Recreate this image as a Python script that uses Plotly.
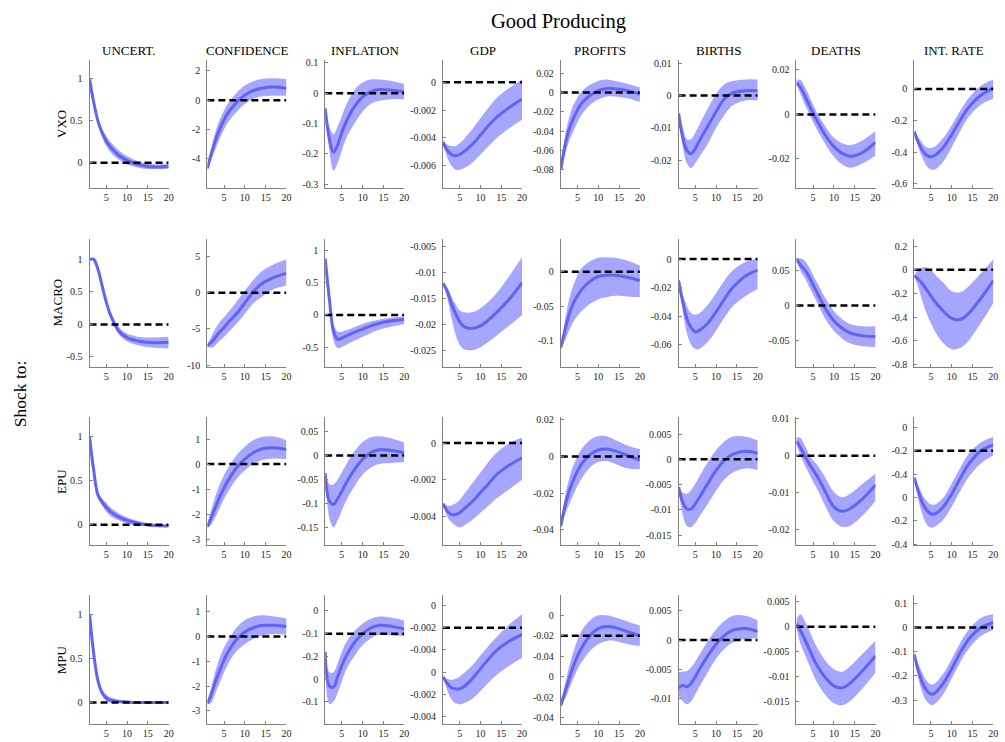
import plotly.graph_objects as go

# ---------------- data ----------------
H = [1, 2, 3, 4, 5, 6, 8, 10, 12, 14, 17, 20]

SHOCKS = ["VXO", "MACRO", "EPU", "MPU"]
VARIABLES = ["UNCERT.", "CONFIDENCE", "INFLATION", "GDP", "PROFITS", "BIRTHS", "DEATHS", "INT. RATE"]

# ---- VXO shock ----
VXO_UNC_MED = [1.0, 0.72, 0.5, 0.36, 0.26, 0.19, 0.09, 0.03, -0.01, -0.035, -0.05, -0.04]
VXO_UNC_LO = [1.0, 0.70, 0.46, 0.31, 0.2, 0.13, 0.04, -0.02, -0.05, -0.07, -0.075, -0.07]
VXO_UNC_HI = [1.0, 0.74, 0.54, 0.41, 0.32, 0.25, 0.15, 0.08, 0.03, 0.0, -0.02, -0.015]
VXO_CON_MED = [-4.65, -3.6, -2.7, -1.95, -1.35, -0.85, -0.15, 0.35, 0.65, 0.82, 0.9, 0.82]
VXO_CON_LO = [-4.75, -4.0, -3.3, -2.6, -2.0, -1.5, -0.8, -0.25, 0.1, 0.25, 0.3, 0.3]
VXO_CON_HI = [-4.55, -3.2, -2.1, -1.3, -0.7, -0.2, 0.5, 1.0, 1.3, 1.45, 1.5, 1.45]
VXO_INF_MED = [-0.05, -0.15, -0.195, -0.17, -0.13, -0.095, -0.045, -0.012, 0.005, 0.012, 0.01, 0.005]
VXO_INF_LO = [-0.05, -0.19, -0.255, -0.23, -0.19, -0.15, -0.1, -0.06, -0.035, -0.025, -0.02, -0.02]
VXO_INF_HI = [-0.05, -0.11, -0.135, -0.11, -0.075, -0.04, 0.01, 0.035, 0.045, 0.045, 0.04, 0.03]
VXO_GDP_MED = [-0.0043, -0.0049, -0.0052, -0.0053, -0.0052, -0.005, -0.0045, -0.0038, -0.0031, -0.0025, -0.0018, -0.0012]
VXO_GDP_LO = [-0.0043, -0.0054, -0.006, -0.0063, -0.0063, -0.0062, -0.0058, -0.0052, -0.0046, -0.004, -0.0033, -0.0027]
VXO_GDP_HI = [-0.0043, -0.0045, -0.0046, -0.0046, -0.0044, -0.0041, -0.0034, -0.0026, -0.0018, -0.0011, -0.0004, 0.0002]
VXO_PRO_MED = [-0.08, -0.055, -0.038, -0.027, -0.018, -0.011, -0.003, 0.002, 0.0043, 0.004, 0.002, -0.0017]
VXO_PRO_LO = [-0.08, -0.065, -0.05, -0.04, -0.031, -0.023, -0.013, -0.007, -0.004, -0.004, -0.006, -0.0099]
VXO_PRO_HI = [-0.08, -0.045, -0.026, -0.013, -0.005, 0.001, 0.008, 0.012, 0.0135, 0.012, 0.009, 0.0055]
VXO_BIR_MED = [-0.0055, -0.013, -0.017, -0.018, -0.0165, -0.014, -0.0095, -0.005, -0.001, 0.0008, 0.0015, 0.0015]
VXO_BIR_LO = [-0.0055, -0.016, -0.021, -0.0225, -0.021, -0.019, -0.015, -0.01, -0.006, -0.003, -0.0015, -0.0015]
VXO_BIR_HI = [-0.0055, -0.01, -0.0135, -0.0135, -0.0115, -0.009, -0.004, 0.0005, 0.0035, 0.0045, 0.005, 0.005]
VXO_DEA_MED = [0.0142, 0.012, 0.0085, 0.0045, 0.0005, -0.003, -0.0095, -0.0145, -0.0175, -0.0188, -0.017, -0.0125]
VXO_DEA_LO = [0.0135, 0.009, 0.0045, 0.0005, -0.0035, -0.007, -0.0135, -0.019, -0.0225, -0.024, -0.022, -0.0185]
VXO_DEA_HI = [0.0155, 0.0155, 0.0125, 0.0085, 0.0045, 0.0005, -0.0055, -0.0105, -0.013, -0.0138, -0.0115, -0.0075]
VXO_INT_MED = [-0.27, -0.34, -0.39, -0.42, -0.43, -0.42, -0.37, -0.29, -0.2, -0.12, -0.04, 0.005]
VXO_INT_LO = [-0.27, -0.37, -0.44, -0.49, -0.51, -0.51, -0.46, -0.37, -0.27, -0.18, -0.1, -0.06]
VXO_INT_HI = [-0.27, -0.31, -0.345, -0.37, -0.375, -0.365, -0.31, -0.23, -0.14, -0.06, 0.02, 0.06]

# ---- MACRO shock ----
MAC_UNC_MED = [1.0, 1.0, 0.85, 0.6, 0.35, 0.15, -0.1, -0.2, -0.245, -0.27, -0.28, -0.275]
MAC_UNC_LO = [1.0, 1.0, 0.82, 0.55, 0.3, 0.1, -0.15, -0.26, -0.31, -0.34, -0.36, -0.37]
MAC_UNC_HI = [1.0, 1.0, 0.88, 0.65, 0.4, 0.2, -0.04, -0.14, -0.18, -0.2, -0.2, -0.19]
MAC_CON_MED = [-7.3, -6.8, -6.1, -5.4, -4.8, -4.1, -2.9, -1.4, 0.1, 1.2, 2.1, 2.65]
MAC_CON_LO = [-7.4, -7.6, -7.2, -6.6, -6.1, -5.5, -4.3, -2.9, -1.5, -0.6, 0.5, 1.0]
MAC_CON_HI = [-7.2, -6.0, -4.9, -4.0, -3.4, -2.7, -1.3, 0.3, 1.7, 2.9, 3.9, 4.6]
MAC_INF_MED = [0.88, 0.25, -0.25, -0.38, -0.36, -0.33, -0.27, -0.22, -0.17, -0.13, -0.09, -0.07]
MAC_INF_LO = [0.88, 0.2, -0.4, -0.52, -0.5, -0.47, -0.4, -0.34, -0.28, -0.23, -0.18, -0.14]
MAC_INF_HI = [0.88, 0.3, -0.15, -0.26, -0.26, -0.24, -0.19, -0.14, -0.1, -0.07, -0.04, -0.02]
MAC_GDP_MED = [-0.012, -0.0135, -0.0159, -0.0178, -0.0194, -0.0203, -0.0207, -0.0202, -0.019, -0.0175, -0.015, -0.0119]
MAC_GDP_LO = [-0.012, -0.0148, -0.0185, -0.0218, -0.0238, -0.0247, -0.0249, -0.0243, -0.0232, -0.022, -0.0201, -0.0181]
MAC_GDP_HI = [-0.012, -0.0128, -0.0145, -0.016, -0.0172, -0.0176, -0.0176, -0.0168, -0.0155, -0.0138, -0.0105, -0.007]
MAC_PRO_MED = [-0.11, -0.085, -0.062, -0.046, -0.035, -0.026, -0.014, -0.007, -0.005, -0.005, -0.008, -0.013]
MAC_PRO_LO = [-0.11, -0.1, -0.085, -0.073, -0.064, -0.057, -0.047, -0.04, -0.037, -0.035, -0.036, -0.037]
MAC_PRO_HI = [-0.11, -0.07, -0.04, -0.02, -0.005, 0.005, 0.015, 0.02, 0.021, 0.02, 0.016, 0.009]
MAC_BIR_MED = [-0.015, -0.03, -0.042, -0.048, -0.051, -0.05, -0.045, -0.037, -0.028, -0.02, -0.012, -0.0077]
MAC_BIR_LO = [-0.015, -0.036, -0.052, -0.06, -0.063, -0.063, -0.058, -0.05, -0.041, -0.033, -0.026, -0.021]
MAC_BIR_HI = [-0.015, -0.025, -0.033, -0.038, -0.039, -0.038, -0.032, -0.024, -0.015, -0.008, -0.002, 0.0]
MAC_DEA_MED = [0.068, 0.058, 0.052, 0.042, 0.03, 0.018, -0.005, -0.022, -0.033, -0.04, -0.044, -0.045]
MAC_DEA_LO = [0.068, 0.05, 0.04, 0.028, 0.016, 0.004, -0.02, -0.037, -0.048, -0.055, -0.059, -0.06]
MAC_DEA_HI = [0.068, 0.068, 0.065, 0.056, 0.044, 0.033, 0.01, -0.008, -0.02, -0.027, -0.03, -0.03]
MAC_INT_MED = [-0.05, -0.08, -0.12, -0.17, -0.22, -0.27, -0.35, -0.41, -0.42, -0.37, -0.24, -0.09]
MAC_INT_LO = [-0.05, -0.15, -0.27, -0.37, -0.45, -0.52, -0.62, -0.67, -0.66, -0.6, -0.45, -0.28]
MAC_INT_HI = [-0.05, 0.0, 0.02, 0.02, 0.0, -0.04, -0.11, -0.18, -0.19, -0.14, -0.03, 0.09]

# ---- EPU shock ----
EPU_UNC_MED = [1.0, 0.62, 0.34, 0.26, 0.2, 0.15, 0.09, 0.05, 0.025, 0.005, -0.01, -0.015]
EPU_UNC_LO = [1.0, 0.6, 0.31, 0.22, 0.15, 0.1, 0.05, 0.015, -0.005, -0.015, -0.025, -0.025]
EPU_UNC_HI = [1.0, 0.64, 0.38, 0.3, 0.25, 0.2, 0.13, 0.085, 0.05, 0.025, 0.005, 0.0]
EPU_CON_MED = [-2.5, -2.1, -1.7, -1.3, -0.95, -0.65, -0.15, 0.2, 0.45, 0.6, 0.65, 0.58]
EPU_CON_LO = [-2.55, -2.4, -2.1, -1.75, -1.4, -1.1, -0.6, -0.25, 0.0, 0.15, 0.22, 0.2]
EPU_CON_HI = [-2.45, -1.8, -1.25, -0.8, -0.45, -0.15, 0.35, 0.7, 0.95, 1.08, 1.1, 0.95]
EPU_INF_MED = [-0.037, -0.095, -0.102, -0.09, -0.075, -0.058, -0.03, -0.008, 0.006, 0.012, 0.01, 0.005]
EPU_INF_LO = [-0.037, -0.13, -0.15, -0.135, -0.115, -0.095, -0.065, -0.04, -0.025, -0.018, -0.016, -0.014]
EPU_INF_HI = [-0.037, -0.06, -0.06, -0.05, -0.035, -0.02, 0.008, 0.028, 0.038, 0.04, 0.035, 0.027]
EPU_GDP_MED = [-0.0033, -0.0037, -0.0039, -0.0039, -0.0038, -0.0036, -0.0032, -0.0027, -0.0022, -0.0017, -0.0012, -0.0008]
EPU_GDP_LO = [-0.0033, -0.004, -0.0043, -0.0045, -0.0046, -0.0045, -0.0042, -0.0038, -0.0034, -0.003, -0.0025, -0.002]
EPU_GDP_HI = [-0.0033, -0.0034, -0.0034, -0.0033, -0.0031, -0.0028, -0.0022, -0.0016, -0.001, -0.0005, 0.0, 0.0003]
EPU_PRO_MED = [-0.038, -0.027, -0.019, -0.013, -0.008, -0.004, 0.001, 0.0035, 0.004, 0.003, 0.0005, -0.002]
EPU_PRO_LO = [-0.039, -0.032, -0.026, -0.021, -0.016, -0.012, -0.006, -0.003, -0.0025, -0.004, -0.0065, -0.007]
EPU_PRO_HI = [-0.037, -0.022, -0.012, -0.005, 0.0, 0.004, 0.009, 0.011, 0.011, 0.009, 0.006, 0.004]
EPU_BIR_MED = [-0.0055, -0.0085, -0.0098, -0.0098, -0.0088, -0.0075, -0.0048, -0.0022, -0.0002, 0.001, 0.0016, 0.0012]
EPU_BIR_LO = [-0.0055, -0.011, -0.0132, -0.0134, -0.0126, -0.0113, -0.0088, -0.0062, -0.004, -0.0026, -0.0018, -0.0021]
EPU_BIR_HI = [-0.0055, -0.0066, -0.0068, -0.006, -0.0048, -0.0034, -0.0006, 0.0018, 0.0035, 0.0045, 0.0045, 0.0037]
EPU_DEA_MED = [0.004, 0.0022, 0.0, -0.002, -0.0038, -0.0055, -0.0098, -0.0138, -0.015, -0.0142, -0.0115, -0.0079]
EPU_DEA_LO = [0.003, 0.0, -0.0025, -0.0048, -0.007, -0.009, -0.0137, -0.0177, -0.0192, -0.0188, -0.016, -0.0122]
EPU_DEA_HI = [0.005, 0.0048, 0.0028, 0.0005, -0.0012, -0.0025, -0.006, -0.0098, -0.0112, -0.0102, -0.0075, -0.0048]
EPU_INT_MED = [-0.43, -0.55, -0.65, -0.71, -0.74, -0.74, -0.68, -0.57, -0.44, -0.32, -0.2, -0.15]
EPU_INT_LO = [-0.43, -0.62, -0.75, -0.83, -0.86, -0.85, -0.79, -0.68, -0.55, -0.43, -0.31, -0.24]
EPU_INT_HI = [-0.43, -0.5, -0.58, -0.63, -0.66, -0.66, -0.6, -0.48, -0.35, -0.23, -0.13, -0.08]

# ---- MPU shock ----
MPU_UNC_MED = [1.0, 0.55, 0.25, 0.11, 0.05, 0.025, 0.01, 0.005, 0.0, 0.0, 0.0, 0.0]
MPU_UNC_LO = [1.0, 0.53, 0.22, 0.08, 0.02, 0.0, -0.005, -0.005, -0.005, -0.005, -0.005, -0.005]
MPU_UNC_HI = [1.0, 0.57, 0.29, 0.15, 0.09, 0.06, 0.03, 0.015, 0.01, 0.008, 0.005, 0.005]
MPU_CON_MED = [-2.7, -2.3, -1.8, -1.35, -0.95, -0.62, -0.12, 0.18, 0.35, 0.44, 0.45, 0.4]
MPU_CON_LO = [-2.75, -2.65, -2.25, -1.85, -1.45, -1.1, -0.6, -0.3, -0.1, 0.03, 0.1, 0.08]
MPU_CON_HI = [-2.65, -2.0, -1.35, -0.85, -0.45, -0.15, 0.35, 0.65, 0.8, 0.85, 0.8, 0.72]
MPU_INF_MED = [-0.18, -0.33, -0.335, -0.29, -0.24, -0.2, -0.14, -0.1, -0.075, -0.063, -0.068, -0.08]
MPU_INF_LO = [-0.18, -0.41, -0.4, -0.36, -0.31, -0.26, -0.2, -0.15, -0.12, -0.105, -0.108, -0.112]
MPU_INF_HI = [-0.18, -0.27, -0.27, -0.23, -0.18, -0.14, -0.09, -0.055, -0.035, -0.025, -0.03, -0.042]
MPU_GDP_MED = [-0.0064, -0.007, -0.0074, -0.0075, -0.0075, -0.0073, -0.0066, -0.0057, -0.0048, -0.004, -0.0032, -0.0026]
MPU_GDP_LO = [-0.0064, -0.0076, -0.0084, -0.0088, -0.0089, -0.0088, -0.0084, -0.0077, -0.0069, -0.0062, -0.0054, -0.0047]
MPU_GDP_HI = [-0.0064, -0.0066, -0.0067, -0.0066, -0.0064, -0.0061, -0.0054, -0.0045, -0.0036, -0.0028, -0.0017, -0.0008]
MPU_PRO_MED = [-0.088, -0.075, -0.062, -0.05, -0.04, -0.032, -0.02, -0.013, -0.011, -0.012, -0.016, -0.02]
MPU_PRO_LO = [-0.089, -0.082, -0.072, -0.062, -0.053, -0.046, -0.035, -0.028, -0.025, -0.025, -0.028, -0.03]
MPU_PRO_HI = [-0.087, -0.068, -0.05, -0.036, -0.024, -0.015, -0.005, 0.0, 0.0, -0.002, -0.006, -0.01]
MPU_BIR_MED = [-0.0082, -0.0078, -0.008, -0.0074, -0.0063, -0.005, -0.0027, -0.0007, 0.0008, 0.0017, 0.002, 0.0015]
MPU_BIR_LO = [-0.0095, -0.0105, -0.011, -0.0105, -0.0093, -0.008, -0.0055, -0.0032, -0.0015, -0.0004, 0.0002, 0.0003]
MPU_BIR_HI = [-0.0055, -0.0054, -0.0053, -0.0047, -0.0037, -0.0025, -0.0002, 0.0018, 0.0033, 0.0042, 0.0042, 0.0034]
MPU_DEA_MED = [0.0006, -0.0008, -0.0025, -0.0043, -0.0062, -0.0078, -0.0102, -0.0118, -0.0122, -0.0112, -0.0087, -0.0058]
MPU_DEA_LO = [-0.0003, -0.0035, -0.0055, -0.0075, -0.0095, -0.0112, -0.0137, -0.0153, -0.0157, -0.0148, -0.0122, -0.0092]
MPU_DEA_HI = [0.0015, 0.0025, 0.0012, -0.0005, -0.0025, -0.0042, -0.0068, -0.0085, -0.009, -0.0078, -0.0053, -0.0028]
MPU_INT_MED = [-0.11, -0.18, -0.23, -0.26, -0.275, -0.27, -0.23, -0.17, -0.105, -0.05, 0.0, 0.02]
MPU_INT_LO = [-0.11, -0.21, -0.27, -0.305, -0.32, -0.315, -0.275, -0.21, -0.145, -0.09, -0.035, -0.01]
MPU_INT_HI = [-0.11, -0.15, -0.19, -0.22, -0.235, -0.23, -0.19, -0.13, -0.065, -0.01, 0.04, 0.055]

# y tick values per panel (row by row)
YTICKS = [
    [[0, 0.5, 1], [-4, -2, 0, 2], [-0.3, -0.2, -0.1, 0, 0.1], [-0.006, -0.004, -0.002, 0],
     [-0.08, -0.06, -0.04, -0.02, 0, 0.02], [-0.02, -0.01, 0, 0.01], [-0.02, 0, 0.02], [-0.6, -0.4, -0.2, 0]],
    [[-0.5, 0, 0.5, 1], [-10, -5, 0, 5], [-0.5, 0, 0.5, 1], [-0.025, -0.02, -0.015, -0.01, -0.005],
     [-0.1, -0.05, 0], [-0.06, -0.04, -0.02, 0], [-0.05, 0, 0.05], [-0.8, -0.6, -0.4, -0.2, 0, 0.2]],
    [[0, 0.5, 1], [-3, -2, -1, 0, 1], [-0.15, -0.1, -0.05, 0, 0.05], [-0.004, -0.002, 0],
     [-0.04, -0.02, 0, 0.02], [-0.015, -0.01, -0.005, 0, 0.005], [-0.02, -0.01, 0, 0.01],
     [-1.0, -0.8, -0.6, -0.4, -0.2, 0]],
    [[0, 0.5, 1], [-3, -2, -1, 0, 1], [-0.5, -0.4, -0.3, -0.2, -0.1, 0],
     [-0.01, -0.008, -0.006, -0.004, -0.002, 0], [-0.1, -0.08, -0.06, -0.04, -0.02, 0],
     [-0.01, -0.005, 0, 0.005], [-0.015, -0.01, -0.005, 0, 0.005], [-0.3, -0.2, -0.1, 0, 0.1]],
]
# panels whose printed tick labels repeat (as in the original figure)
SPECIAL_TICKTEXT = {
    (2, 7): ["-0.4", "-0.2", "0", "-0.4", "-0.2", "0"],
    (3, 2): ["-0.2", "-0.1", "0", "-0.2", "-0.1", "0"],
    (3, 3): ["-0.004", "-0.002", "0", "-0.004", "-0.002", "0"],
    (3, 4): ["-0.04", "-0.02", "0", "-0.04", "-0.02", "0"],
}
# level of the dashed reference line
REF_LEVEL = [
    [0, 0, 0, 0, 0, 0, 0, 0],
    [0, 0, 0, 0, 0, 0, 0, 0],
    [0, 0, 0, 0, 0, 0, 0, -0.2],
    [0, 0, -0.1, -0.002, -0.02, 0, 0, 0],
]
XTICKS = [5, 10, 15, 20]

# ---------------- layout helpers ----------------
YRANGE = [
    [[-0.306, 1.224], [-6.02, 2.74], [-0.314, 0.109], [-0.00766, 0.0016], [-0.0995, 0.0337],
     [-0.0288, 0.011], [-0.0333, 0.0244], [-0.631, 0.183]],
    [[-0.653, 1.32], [-10.23, 7.45], [-0.81, 1.19], [-0.0281, -0.0034], [-0.138, 0.048],
     [-0.0756, 0.0144], [-0.089, 0.097], [-0.82, 0.264]],
    [[-0.236, 1.228], [-3.25, 1.88], [-0.1875, 0.08], [-0.00558, 0.00142], [-0.0485, 0.0215],
     [-0.017, 0.00836], [-0.0242, 0.0105], [-1.011, 0.0886]],
    [[-0.243, 1.213], [-3.52, 1.65], [-0.497, 0.068], [-0.01064, 0.00089], [-0.1061, 0.0194],
     [-0.01436, 0.00766], [-0.0194, 0.00625], [-0.398, 0.133]],
]

PANELS = [
    [(VXO_UNC_MED, VXO_UNC_LO, VXO_UNC_HI), (VXO_CON_MED, VXO_CON_LO, VXO_CON_HI),
     (VXO_INF_MED, VXO_INF_LO, VXO_INF_HI), (VXO_GDP_MED, VXO_GDP_LO, VXO_GDP_HI),
     (VXO_PRO_MED, VXO_PRO_LO, VXO_PRO_HI), (VXO_BIR_MED, VXO_BIR_LO, VXO_BIR_HI),
     (VXO_DEA_MED, VXO_DEA_LO, VXO_DEA_HI), (VXO_INT_MED, VXO_INT_LO, VXO_INT_HI)],
    [(MAC_UNC_MED, MAC_UNC_LO, MAC_UNC_HI), (MAC_CON_MED, MAC_CON_LO, MAC_CON_HI),
     (MAC_INF_MED, MAC_INF_LO, MAC_INF_HI), (MAC_GDP_MED, MAC_GDP_LO, MAC_GDP_HI),
     (MAC_PRO_MED, MAC_PRO_LO, MAC_PRO_HI), (MAC_BIR_MED, MAC_BIR_LO, MAC_BIR_HI),
     (MAC_DEA_MED, MAC_DEA_LO, MAC_DEA_HI), (MAC_INT_MED, MAC_INT_LO, MAC_INT_HI)],
    [(EPU_UNC_MED, EPU_UNC_LO, EPU_UNC_HI), (EPU_CON_MED, EPU_CON_LO, EPU_CON_HI),
     (EPU_INF_MED, EPU_INF_LO, EPU_INF_HI), (EPU_GDP_MED, EPU_GDP_LO, EPU_GDP_HI),
     (EPU_PRO_MED, EPU_PRO_LO, EPU_PRO_HI), (EPU_BIR_MED, EPU_BIR_LO, EPU_BIR_HI),
     (EPU_DEA_MED, EPU_DEA_LO, EPU_DEA_HI), (EPU_INT_MED, EPU_INT_LO, EPU_INT_HI)],
    [(MPU_UNC_MED, MPU_UNC_LO, MPU_UNC_HI), (MPU_CON_MED, MPU_CON_LO, MPU_CON_HI),
     (MPU_INF_MED, MPU_INF_LO, MPU_INF_HI), (MPU_GDP_MED, MPU_GDP_LO, MPU_GDP_HI),
     (MPU_PRO_MED, MPU_PRO_LO, MPU_PRO_HI), (MPU_BIR_MED, MPU_BIR_LO, MPU_BIR_HI),
     (MPU_DEA_MED, MPU_DEA_LO, MPU_DEA_HI), (MPU_INT_MED, MPU_INT_LO, MPU_INT_HI)],
]

W, HGT = 1005, 742
FONT = "Liberation Serif, Times New Roman, serif"
BAND = "#A6A6FF"
LINE = "#6262F4"
AXC = "#808080"
TXT = "#262626"

fig = go.Figure()
layout = dict(
    width=W, height=HGT, margin=dict(l=0, r=0, t=0, b=0),
    paper_bgcolor="white", plot_bgcolor="white", showlegend=False,
    font=dict(family=FONT, color=TXT),
)
annotations = []

for r in range(4):
    for c in range(8):
        i = r * 8 + c + 1
        xa = "x" if i == 1 else f"x{i}"
        ya = "y" if i == 1 else f"y{i}"
        left = 90 + c * 118.4
        right = left + 79.5
        top = 56.7 + r * 180.4
        bottom = top + 129.8
        med, lo, hi = PANELS[r][c]
        fig.add_trace(go.Scatter(x=H, y=hi, mode="lines", line=dict(width=0, shape="spline", color=BAND),
                                 xaxis=xa, yaxis=ya, hoverinfo="skip"))
        fig.add_trace(go.Scatter(x=H, y=lo, mode="lines", line=dict(width=0, shape="spline", color=BAND),
                                 fill="tonexty", fillcolor=BAND, xaxis=xa, yaxis=ya, hoverinfo="skip"))
        fig.add_trace(go.Scatter(x=H, y=med, mode="lines", line=dict(width=3, shape="spline", color=LINE),
                                 xaxis=xa, yaxis=ya))
        ref = REF_LEVEL[r][c]
        fig.add_trace(go.Scatter(x=[H[0], H[-1]], y=[ref, ref], mode="lines",
                                 line=dict(width=2.5, color="black", dash="7px,4px"),
                                 xaxis=xa, yaxis=ya, hoverinfo="skip"))
        tv = YTICKS[r][c]
        tt = SPECIAL_TICKTEXT.get((r, c), ["%g" % v for v in tv])
        axis_common = dict(showgrid=False, zeroline=False, showline=True, linecolor=AXC, linewidth=1,
                           ticks="inside", ticklen=3, tickcolor=AXC,
                           tickfont=dict(family=FONT, size=10, color=TXT))
        layout["xaxis" if i == 1 else f"xaxis{i}"] = dict(
            domain=[left / W, right / W], anchor=ya, range=[1, 20],
            tickmode="array", tickvals=XTICKS, ticktext=[str(v) for v in XTICKS], **axis_common)
        layout["yaxis" if i == 1 else f"yaxis{i}"] = dict(
            domain=[1 - bottom / HGT, 1 - top / HGT], anchor=xa, range=YRANGE[r][c],
            tickmode="array", tickvals=tv, ticktext=tt, ticklabelstandoff=4, **axis_common)
        if r == 0:
            annotations.append(dict(text=VARIABLES[c], x=(left + right) / 2 / W, y=1 - 47.3 / HGT,
                                    xref="paper", yref="paper", showarrow=False,
                                    font=dict(family=FONT, size=13, color="black"),
                                    xanchor="center", yanchor="middle"))
    row_x = [62, 58, 62, 62][r]
    annotations.append(dict(text=SHOCKS[r], x=row_x / W, y=1 - (56.7 + r * 180.4 + 64.9) / HGT,
                            xref="paper", yref="paper", showarrow=False, textangle=-90,
                            font=dict(family=FONT, size=13, color="black"),
                            xanchor="center", yanchor="middle"))

annotations.append(dict(text="Good Producing", x=561 / W, y=1 - 18 / HGT, xref="paper", yref="paper",
                        showarrow=False, font=dict(family=FONT, size=20.5, color="black"),
                        xanchor="center", yanchor="middle"))
annotations.append(dict(text="Shock to:", x=20 / W, y=1 - 393.5 / HGT, xref="paper", yref="paper",
                        showarrow=False, textangle=-90, font=dict(family=FONT, size=17.5, color="black"),
                        xanchor="center", yanchor="middle"))
layout["annotations"] = annotations
fig.update_layout(**layout)
fig.write_html("out.html")
